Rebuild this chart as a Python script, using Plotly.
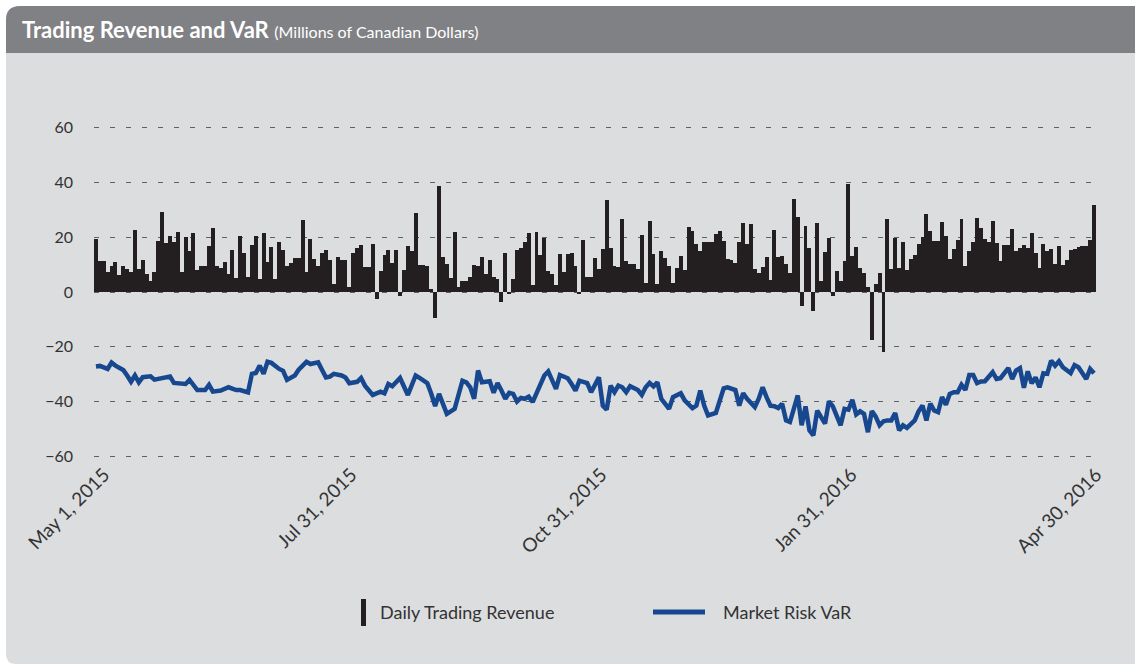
import plotly.graph_objects as go
import pandas as pd

# ---------------- data ----------------
revenue = [
    19.3, 11.3, 11.3, 7.2, 9.4, 11.0, 6.2, 9.4, 8.4, 7.2, 22.6, 8.5, 11.6, 6.5, 4.1, 7.2,
    18.8, 29.4, 17.8, 20.6, 18.2, 22.0, 7.3, 20.0, 14.8, 21.5, 8.2, 9.5, 9.5, 16.7, 23.2,
    9.6, 8.7, 10.9, 6.7, 15.5, 5.1, 20.6, 14.4, 5.6, 17.0, 20.6, 4.6, 21.5, 11.0, 16.5,
    4.9, 18.4, 15.5, 9.6, 10.5, 12.3, 12.3, 26.2, 7.2, 19.3, 12.1, 9.4, 14.1, 15.2, 11.7,
    2.8, 12.9,
    11.7, 11.7, 2.0, 14.1, 16.2, 17.3, 9.1, 9.1, 17.4, -2.7, 7.5, 13.5, 15.4, 10.6, 15.2,
    -1.3, 8.0, 16.7, 15.0, 29.0, 9.9, 9.9, 9.4, 1.0, -9.6, 38.8, 12.7, 10.1, 5.2, 22.0,
    1.8, 4.0, 4.0, 5.6, 9.8, 9.5, 12.9, 6.5, 11.7, 5.4, 4.8, -3.8, 14.1, -0.5, 4.8, 15.4,
    15.9, 18.2, 21.7, 2.6, 21.8, 13.4, 19.9, 7.7, 6.5, 2.4, 13.8, 7.3, 13.8, 14.4, 9.4,
    -0.7, 19.1,
    5.5, 5.5, 12.3, 8.5, 15.6, 33.5, 15.9, 9.6, 9.1, 26.6, 11.5, 10.4, 10.1, 8.5, 20.7,
    3.2, 25.9, 13.7, 3.0, 14.9, 12.3, 9.4, 3.3, 8.8, 13.3, 8.0, 23.9, 22.3, 17.6, 15.1,
    18.2, 18.2, 18.2, 21.1, 22.3, 18.7, 12.0, 11.6, 10.5, 18.2, 25.2, 17.4, 24.8, 8.3,
    7.1, 9.1, 12.9, 4.4, 22.7, 12.9, 13.2, 10.1, 6.8, 34.1, 27.4, -5.1, 24.0, 16.2, -6.8,
    25.1, 4.0, 14.5, 19.6, -1.3, 7.8,
    4.0, 11.3, 39.4, 13.3, 16.3, 8.9, 7.1, 1.8, -17.6, 2.8, 6.8, -21.8, 26.8, 8.4, 19.9,
    8.9, 18.2, 8.0, 12.0, 13.5, 17.6, 20.0, 28.4, 22.2, 18.7, 18.8, 25.5, 20.6, 12.2,
    15.6, 18.9, 26.5, 9.5, 15.1, 18.2, 27.2, 23.5, 19.3, 18.4, 25.9, 17.8, 11.5, 17.0,
    17.0, 22.9, 14.8, 16.2, 17.1, 16.2, 21.5, 14.1, 8.9, 17.6, 15.0, 15.6, 10.2, 16.7,
    10.0, 11.7, 15.2, 15.6, 16.6, 16.7, 16.8, 19.1, 31.8,
]

# trading-day index of each VaR reading, and the VaR value
var_day = [
    0, 1, 3, 4, 5, 7, 8, 9, 10, 11, 12, 14, 15, 17, 19, 20, 22, 23, 24, 26, 28, 29, 30,
    32, 34, 36, 37, 39, 40, 41, 42, 43, 44, 45, 47, 48, 49, 51, 52, 54, 55, 57, 58, 59,
    60, 61, 63, 64, 65, 67, 68, 69, 71, 72, 73, 74, 75, 76, 78, 80, 82, 83, 85, 86, 87,
    88, 90, 92, 93, 94, 95, 96, 97, 98, 99, 100, 101, 102, 103, 104, 105, 106, 107, 108,
    109, 110, 111, 112, 114, 115, 116, 117, 118, 119, 121, 122, 123, 124, 126, 127, 129,
    130, 131, 132, 133, 134, 135, 136, 137, 139, 140, 141, 142, 143, 144, 145, 147, 148,
    150, 151, 153, 154, 155, 156, 157, 159, 160, 161, 162, 164, 165, 166, 167, 169, 170,
    171, 172, 173, 174, 175, 176, 177, 178, 179, 180, 181, 182, 183, 184, 185, 186, 187,
    188, 189, 191, 192, 193, 194, 195, 196, 197, 198, 199, 200, 201, 202, 203, 204, 205,
    206, 207, 208, 210, 211, 212, 213, 214, 215, 216, 217, 218, 219, 220, 221, 222, 223,
    224, 225, 226, 227, 228, 230, 231, 232, 234, 235, 236, 237, 238, 239, 240, 241, 242,
    243, 244, 245, 246, 247, 248, 250, 251, 252, 254, 255, 256,
]
var_value = [
    -27.2, -27.0, -28.1, -25.8, -26.9, -28.5, -30.5, -32.8, -30.5, -33.0, -31.1, -30.8,
    -32.0, -31.6, -30.9, -33.2, -33.5, -33.6, -32.1, -35.8, -35.8, -33.9, -36.4, -36.0,
    -34.8, -35.8, -35.8, -36.7, -29.9, -29.6, -26.9, -29.9, -25.5, -25.9, -28.1, -28.8,
    -32.1, -30.5, -28.4, -25.5, -26.3, -25.7, -28.5, -31.2, -30.9, -29.9, -30.5, -31.2,
    -33.3, -32.8, -31.4, -34.2, -37.6, -37.0, -36.4, -37.0, -33.6, -34.4, -31.4, -37.6,
    -30.5, -31.4, -33.3, -37.2, -41.7, -37.2, -44.5, -42.7, -37.8, -32.4, -33.0, -34.8,
    -39.0, -28.7, -33.0, -33.0, -32.6, -36.8, -33.3, -36.0, -39.0, -36.8, -37.2, -40.0,
    -38.7, -39.0, -38.2, -40.2, -33.0, -30.5, -29.0, -31.8, -35.4, -30.3, -31.5, -33.6,
    -36.0, -32.4, -33.3, -36.6, -31.2,
    -41.5, -43.0, -34.2, -36.6, -34.2, -34.8, -36.6, -34.4, -35.8, -37.6, -34.8, -33.2,
    -34.5, -33.0, -39.0, -42.7, -38.4, -37.0, -39.6, -42.4, -41.5, -36.0, -41.5, -45.1,
    -44.2, -40.2, -35.2, -34.8, -35.8, -41.5, -37.0, -39.0, -42.0, -39.0, -34.8, -38.4,
    -41.5, -41.7, -42.4, -40.8, -46.9, -47.5, -42.0, -37.8, -48.7, -41.8, -50.5, -52.4,
    -43.3, -45.9, -48.1, -39.9, -41.8, -48.7, -42.7, -43.0, -39.4, -44.7, -43.6, -44.5,
    -51.2, -43.5, -45.5, -48.7, -47.2, -46.9, -46.9, -44.2, -50.5, -48.7, -49.6, -46.9,
    -43.6, -41.5, -46.9, -40.8, -43.3, -43.9, -38.4, -41.2, -37.2, -36.6, -36.6, -33.9,
    -35.8, -30.3, -30.3, -33.3, -32.7, -32.6, -29.3, -31.8, -31.5, -27.8, -31.8, -28.7,
    -27.8, -35.0, -29.0, -33.3, -31.2, -34.8, -29.7, -29.9, -25.1, -26.9, -25.3, -27.5,
    -29.6, -26.7, -27.5, -31.8, -28.1, -29.7,
]

tick_dates = ["2015-05-01", "2015-07-31", "2015-10-31", "2016-01-31", "2016-04-30"]
tick_labels = ["May 1, 2015", "Jul 31, 2015", "Oct 31, 2015", "Jan 31, 2016", "Apr 30, 2016"]

y_ticks = [-60, -40, -20, 0, 20, 40, 60]

# ---------------- geometry helpers ----------------
W, H = 1135, 665
L, R, T, B = 94, 39, 125, 206
PW, PH = W - L - R, H - T - B
Y_RANGE = [-61, 61]


def px(x):
    return (x - L) / PW


def py(y):
    return (H - B - y) / PH


def rrect(x0, y0, x1, y1, rtl, rtr, rbr, rbl):
    pts = [
        f"M {px(x0 + rtl)} {py(y0)}",
        f"L {px(x1 - rtr)} {py(y0)}",
        f"Q {px(x1)} {py(y0)} {px(x1)} {py(y0 + rtr)}",
        f"L {px(x1)} {py(y1 - rbr)}",
        f"Q {px(x1)} {py(y1)} {px(x1 - rbr)} {py(y1)}",
        f"L {px(x0 + rbl)} {py(y1)}",
        f"Q {px(x0)} {py(y1)} {px(x0)} {py(y1 - rbl)}",
        f"L {px(x0)} {py(y0 + rtl)}",
        f"Q {px(x0)} {py(y0)} {px(x0 + rtl)} {py(y0)}",
        "Z",
    ]
    return " ".join(pts)


N = len(revenue)
xs = list(range(N))

# date axis positions: first label sits slightly right of the first bar
d0 = pd.Timestamp(tick_dates[0])
d1 = pd.Timestamp(tick_dates[-1])
TICK_PX0, TICK_PX1 = 104, 1096
tickvals = []
for d in tick_dates:
    frac = (pd.Timestamp(d) - d0) / (d1 - d0)
    p = TICK_PX0 + frac * (TICK_PX1 - TICK_PX0)
    tickvals.append(-0.5 + (p - L) / PW * N)

BAR = "#231f20"
BLUE = "#17488f"
TXT = "#333333"
FONT = "Lato"

fig = go.Figure()
fig.add_trace(go.Bar(x=xs, y=revenue, marker=dict(color=BAR, line=dict(width=0)),
                     name="Daily Trading Revenue", showlegend=False))
fig.add_trace(go.Scatter(x=var_day, y=var_value, mode="lines",
                         line=dict(color=BLUE, width=4.5), name="Market Risk VaR",
                         showlegend=False))

shapes = [
    dict(type="path", xref="paper", yref="paper", layer="below",
         path=rrect(6, 6, 1145, 664, 14, 0, 0, 10), fillcolor="#dcdddf",
         line=dict(width=0)),
    dict(type="path", xref="paper", yref="paper", layer="below",
         path=rrect(6, 6, 1145, 53, 14, 0, 0, 0), fillcolor="#808184",
         line=dict(width=0)),
    # legend icons
    dict(type="rect", xref="paper", yref="paper", x0=px(361), x1=px(366), y0=py(626),
         y1=py(599), fillcolor=BAR, line=dict(width=0)),
    dict(type="line", xref="paper", yref="paper", x0=px(653), x1=px(705), y0=py(612),
         y1=py(612), line=dict(color=BLUE, width=5)),
]

annotations = [
    dict(xref="paper", yref="paper", x=px(20), y=py(30), xanchor="left", yanchor="middle",
         showarrow=False,
         text="<b>Trading Revenue and VaR</b> <span style='font-size:16px'>(Millions of Canadian Dollars)</span>",
         font=dict(family=FONT, size=22, color="white")),
    dict(xref="paper", yref="paper", x=px(378), y=py(612), xanchor="left", yanchor="middle",
         showarrow=False, text="Daily Trading Revenue",
         font=dict(family=FONT, size=18, color=TXT)),
    dict(xref="paper", yref="paper", x=px(721), y=py(612), xanchor="left", yanchor="middle",
         showarrow=False, text="Market Risk VaR",
         font=dict(family=FONT, size=18, color=TXT)),
]

fig.update_layout(
    width=W, height=H,
    margin=dict(l=L, r=R, t=T, b=B, pad=0),
    paper_bgcolor="white",
    plot_bgcolor="rgba(0,0,0,0)",
    bargap=0.0,
    showlegend=False,
    shapes=shapes,
    annotations=annotations,
    font=dict(family=FONT, color=TXT),
    xaxis=dict(range=[-0.5, N - 0.5], tickmode="array", tickvals=tickvals,
               ticktext=tick_labels, tickangle=-45, showgrid=False, zeroline=False,
               showline=False, ticks="", tickfont=dict(family=FONT, size=19, color=TXT)),
    yaxis=dict(range=Y_RANGE, tickmode="array", tickvals=y_ticks,
               showgrid=True, gridcolor="#5f6062", gridwidth=1, griddash="5px,11px",
               zeroline=False, showline=False, ticks="", ticklabelstandoff=20,
               tickfont=dict(family=FONT, size=16, color=TXT)),
)

fig.write_html("out.html", config={"displayModeBar": False},
               post_script="document.body.style.margin='0px';document.body.style.overflow='hidden';")
